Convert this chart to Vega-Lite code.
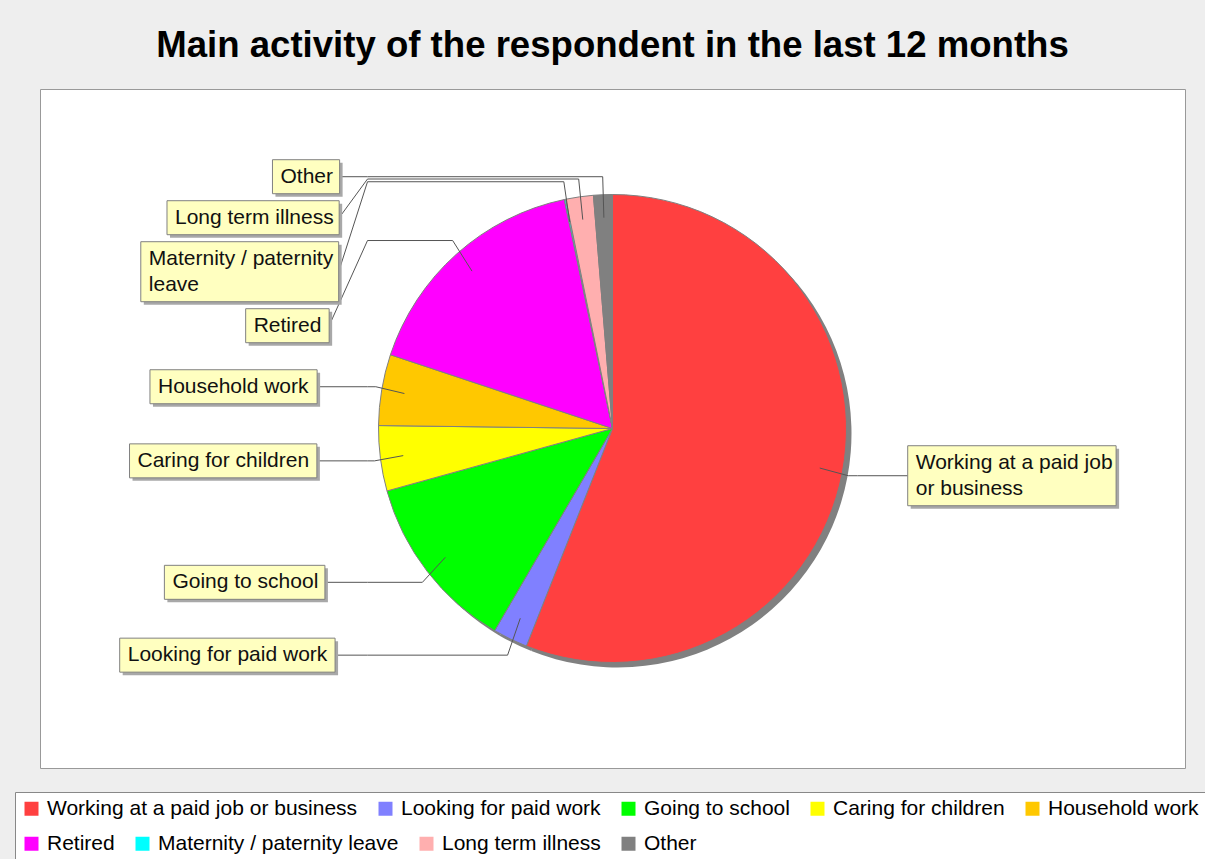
{
  "$schema": "https://vega.github.io/schema/vega-lite/v6.json",
  "width": 1145,
  "height": 679,
  "autosize": {"type": "none"},
  "padding": {"left": 40, "top": 89, "right": 20, "bottom": 91},
  "background": "#EEEEEE",
  "config": {
    "view": {"stroke": "#999999", "fill": "#FFFFFF", "strokeWidth": 1}
  },
  "title": {
    "text": "Main activity of the respondent in the last 12 months",
    "font": "Liberation Sans",
    "fontSize": 36.6,
    "fontWeight": "bold",
    "color": "#000000",
    "anchor": "middle",
    "baseline": "alphabetic",
    "offset": 32,
    "dy": 37
  },
  "data": {
    "values": [
      {"category": "Working at a paid job or business", "value": 56.0, "order": 1},
      {"category": "Looking for paid work", "value": 2.4, "order": 2},
      {"category": "Going to school", "value": 12.3, "order": 3},
      {"category": "Caring for children", "value": 4.5, "order": 4},
      {"category": "Household work", "value": 4.9, "order": 5},
      {"category": "Retired", "value": 16.6, "order": 6},
      {"category": "Maternity / paternity leave", "value": 0.1, "order": 7},
      {"category": "Long term illness", "value": 1.9, "order": 8},
      {"category": "Other", "value": 1.3, "order": 9}
    ]
  },
  "layer": [
    {
      "mark": {"type": "arc", "outerRadius": 234, "fill": "#808080", "xOffset": 5, "yOffset": 5},
      "encoding": {
        "theta": {"field": "value", "type": "quantitative", "stack": true},
        "order": {"field": "order", "type": "quantitative"}
      }
    },
    {
      "mark": {"type": "arc", "outerRadius": 234, "stroke": "#808080", "strokeWidth": 1},
      "encoding": {
        "theta": {"field": "value", "type": "quantitative", "stack": true},
        "order": {"field": "order", "type": "quantitative"},
        "color": {
          "field": "category",
          "type": "nominal",
          "scale": {
            "domain": ["Working at a paid job or business", "Looking for paid work", "Going to school", "Caring for children", "Household work", "Retired", "Maternity / paternity leave", "Long term illness", "Other"],
            "range": ["#FF4040", "#8080FF", "#00FF00", "#FFFF00", "#FFC800", "#FF00FF", "#00FFFF", "#FFAFAF", "#808080"]
          },
          "legend": {
            "values": ["Working at a paid job or business", "Looking for paid work", "Going to school", "Caring for children", "Household work"],
            "orient": "none",
            "legendX": -25,
            "legendY": 703,
            "direction": "horizontal",
            "title": " ",
            "titleOrient": "bottom",
            "titleFontSize": 21,
            "titlePadding": 14,
            "symbolType": "square",
            "symbolSize": 196,
            "symbolStrokeWidth": 0,
            "symbolOpacity": 1,
            "labelFont": "Liberation Sans",
            "labelFontSize": 21,
            "labelColor": "#000000",
            "labelLimit": 600,
            "labelOffset": 5,
            "columnPadding": 17,
            "padding": 6,
            "strokeColor": "#888888",
            "fillColor": "#FFFFFF"
          }
        }
      }
    },
    {
      "transform": [{"filter": "datum.order > 5"}],
      "mark": {"type": "square", "opacity": 0, "size": 10},
      "encoding": {
        "fill": {
          "field": "category",
          "type": "nominal",
          "scale": {
            "domain": ["Retired", "Maternity / paternity leave", "Long term illness", "Other"],
            "range": ["#FF00FF", "#00FFFF", "#FFAFAF", "#808080"]
          },
          "legend": {
            "orient": "none",
            "legendX": -19,
            "legendY": 744,
            "direction": "horizontal",
            "title": null,
            "symbolType": "square",
            "symbolSize": 196,
            "symbolStrokeWidth": 0,
            "symbolOpacity": 1,
            "labelFont": "Liberation Sans",
            "labelFontSize": 21,
            "labelColor": "#000000",
            "labelLimit": 600,
            "labelOffset": 5,
            "columnPadding": 17,
            "padding": 0
          }
        }
      }
    },
    {
      "transform": [
        {"joinaggregate": [{"op": "sum", "field": "value", "as": "total"}]},
        {"stack": "value", "groupby": [], "sort": [{"field": "order", "order": "ascending"}], "as": ["v0", "v1"]},
        {"calculate": "PI * (datum.v0 + datum.v1) / datum.total", "as": "mid"},
        {"calculate": "sin(datum.mid) < 0 ? -1 : 1", "as": "side"},
        {"calculate": "sin(datum.mid) * 211", "as": "lx"},
        {"calculate": "-cos(datum.mid) * 211", "as": "ly"},
        {"calculate": "sin(datum.mid) * 240", "as": "ex"},
        {"calculate": "-cos(datum.mid) * 252", "as": "ey"},
        {"calculate": "datum.side * 245", "as": "ax"},
        {"calculate": "length(datum.category) > 22 ? 2 : 1", "as": "nl"},
        {"calculate": "datum.nl > 1 ? replace(datum.category, regexp('^(.{1,21}) .*$'), '$1') : datum.category", "as": "l1"},
        {"calculate": "datum.nl > 1 ? replace(datum.category, regexp('^.{1,21} '), '') : ''", "as": "l2"},
        {"calculate": "datum.nl > 1 ? datum.l1 + '\\n' + datum.l2 : datum.l1", "as": "lbl"},
        {"calculate": "34 + 26 * (datum.nl - 1)", "as": "bh"},
        {"calculate": "datum.ey - datum.bh / 2", "as": "top0"},
        {"calculate": "datum.bh + 7", "as": "step"},
        {"window": [{"op": "sum", "field": "step", "as": "cs"}], "groupby": ["side"], "sort": [{"field": "ey", "order": "ascending"}], "frame": [null, 0]},
        {"calculate": "datum.cs - datum.step", "as": "s"},
        {"calculate": "datum.top0 - datum.s", "as": "t"},
        {"window": [{"op": "max", "field": "t", "as": "M"}], "groupby": ["side"], "sort": [{"field": "ey", "order": "ascending"}], "frame": [null, 0]},
        {"calculate": "datum.s + datum.M + datum.bh / 2", "as": "cy"},
        {"calculate": "datum.cy - 13 * (datum.nl - 1)", "as": "ty"},
        {"calculate": "datum.side * 296 * sqrt(max(0, 1 - pow(datum.ey / 650, 2)))", "as": "tx"},
        {"calculate": "length(datum.l1) - length(replace(datum.l1, regexp('[ijlI]', 'g'), ''))", "as": "c1"},
        {"calculate": "length(datum.l1) - length(replace(datum.l1, regexp('[tf /]', 'g'), ''))", "as": "c2"},
        {"calculate": "length(datum.l1) - length(replace(datum.l1, regexp('r', 'g'), ''))", "as": "c3"},
        {"calculate": "length(datum.l1) - length(replace(datum.l1, regexp('[sckvxyz]', 'g'), ''))", "as": "c4"},
        {"calculate": "length(datum.l1) - length(replace(datum.l1, regexp('[mwMWOGCHRDNU]', 'g'), ''))", "as": "c5"},
        {"calculate": "21 * (0.222 * datum.c1 + 0.278 * datum.c2 + 0.333 * datum.c3 + 0.5 * datum.c4 + 0.76 * datum.c5 + 0.556 * (length(datum.l1) - datum.c1 - datum.c2 - datum.c3 - datum.c4 - datum.c5))", "as": "tw"},
        {"calculate": "datum.tw + 15", "as": "bw"},
        {"calculate": "datum.side < 0 ? datum.tx - datum.bw : datum.tx", "as": "bx0"},
        {"calculate": "datum.bx0 + datum.bw", "as": "bx1"},
        {"calculate": "datum.cy - datum.bh / 2", "as": "by0"},
        {"calculate": "datum.cy + datum.bh / 2", "as": "by1"},
        {"calculate": "datum.bx0 + 8", "as": "textx"}
      ],
      "layer": [
        {
          "mark": {"type": "rule", "color": "#555555", "strokeWidth": 1},
          "encoding": {
            "x": {"field": "lx", "type": "quantitative", "axis": null, "scale": {"domain": [-572.5, 572.5], "nice": false, "zero": false}},
            "y": {"field": "ly", "type": "quantitative", "axis": null, "scale": {"domain": [-339.5, 339.5], "nice": false, "zero": false, "reverse": true}},
            "x2": {"field": "ex"},
            "y2": {"field": "ey"}
          }
        },
        {
          "mark": {"type": "rule", "color": "#555555", "strokeWidth": 1},
          "encoding": {
            "x": {"field": "ex", "type": "quantitative", "axis": null, "scale": {"domain": [-572.5, 572.5], "nice": false, "zero": false}},
            "y": {"field": "ey", "type": "quantitative", "axis": null, "scale": {"domain": [-339.5, 339.5], "nice": false, "zero": false, "reverse": true}},
            "x2": {"field": "ax"},
            "y2": {"field": "ey"}
          }
        },
        {
          "mark": {"type": "rule", "color": "#555555", "strokeWidth": 1},
          "encoding": {
            "x": {"field": "ax", "type": "quantitative", "axis": null, "scale": {"domain": [-572.5, 572.5], "nice": false, "zero": false}},
            "y": {"field": "ey", "type": "quantitative", "axis": null, "scale": {"domain": [-339.5, 339.5], "nice": false, "zero": false, "reverse": true}},
            "x2": {"field": "tx"},
            "y2": {"field": "cy"}
          }
        },
        {
          "mark": {"type": "rect", "fill": "#A8A8A8", "xOffset": 3, "x2Offset": 3, "yOffset": 3, "y2Offset": 3},
          "encoding": {
            "x": {"field": "bx0", "type": "quantitative", "axis": null, "scale": {"domain": [-572.5, 572.5], "nice": false, "zero": false}},
            "y": {"field": "by0", "type": "quantitative", "axis": null, "scale": {"domain": [-339.5, 339.5], "nice": false, "zero": false, "reverse": true}},
            "x2": {"field": "bx1"},
            "y2": {"field": "by1"}
          }
        },
        {
          "mark": {"type": "rect", "fill": "#FFFFC0", "stroke": "#808080", "strokeWidth": 1},
          "encoding": {
            "x": {"field": "bx0", "type": "quantitative", "axis": null, "scale": {"domain": [-572.5, 572.5], "nice": false, "zero": false}},
            "y": {"field": "by0", "type": "quantitative", "axis": null, "scale": {"domain": [-339.5, 339.5], "nice": false, "zero": false, "reverse": true}},
            "x2": {"field": "bx1"},
            "y2": {"field": "by1"}
          }
        },
        {
          "mark": {"type": "text", "align": "left", "baseline": "middle", "font": "Liberation Sans", "fontSize": 21, "color": "#111111", "lineBreak": "\n", "lineHeight": 26},
          "encoding": {
            "x": {"field": "textx", "type": "quantitative", "axis": null, "scale": {"domain": [-572.5, 572.5], "nice": false, "zero": false}},
            "y": {"field": "ty", "type": "quantitative", "axis": null, "scale": {"domain": [-339.5, 339.5], "nice": false, "zero": false, "reverse": true}},
            "text": {"field": "lbl", "type": "nominal"}
          }
        }
      ]
    }
  ]
}
